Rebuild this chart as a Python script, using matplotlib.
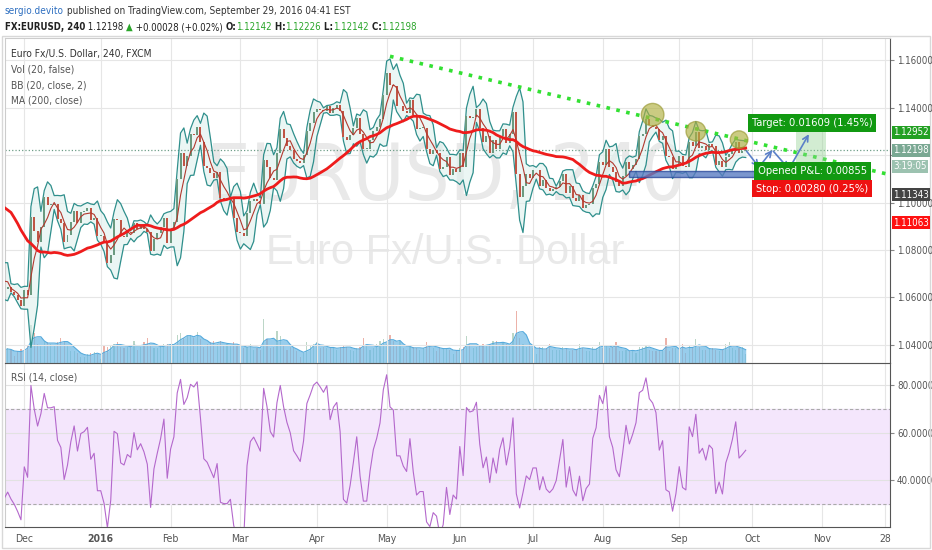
import numpy as np
import pandas as pd
import matplotlib
matplotlib.use('Agg')
import matplotlib.pyplot as plt
import matplotlib.transforms as mtransforms
from matplotlib import font_manager
from matplotlib.patches import Ellipse, Rectangle

# a narrow face if there is one, otherwise Liberation Sans
installed = {(f.name, f.stretch) for f in font_manager.fontManager.ttflist}
if any(n == 'Liberation Sans Narrow' for n, _ in installed):
    plt.rcParams['font.family'] = ['Liberation Sans Narrow', 'DejaVu Sans']
    WM_SIZE = 64
elif ('DejaVu Sans', 'condensed') in installed:
    plt.rcParams['font.family'] = ['DejaVu Sans']
    plt.rcParams['font.stretch'] = 'condensed'
    WM_SIZE = 57
else:
    plt.rcParams['font.family'] = ['Liberation Sans', 'DejaVu Sans']
    WM_SIZE = 53

# daily closes, business days from 2015-10-12 (first 30 only feed the indicators)
START = '2015-10-12'
closes = [
    1.1360, 1.1380, 1.1470, 1.1380, 1.1350,
    1.1325, 1.1345, 1.1345, 1.1110, 1.1015,
    1.1050, 1.1060, 1.0925, 1.0975, 1.1005,
    1.1015, 1.0960, 1.0860, 1.0880, 1.0740,
    1.0755, 1.0725, 1.0730, 1.0815, 1.0770,
    1.0685, 1.0645, 1.0655, 1.0735, 1.0650,
    # Nov 23
    1.0635, 1.0645, 1.0625, 1.0610, 1.0590,
    1.0565, 1.0630, 1.0610, 1.0940, 1.0880,
    1.0835, 1.0895, 1.1025, 1.0990, 1.0990,
    1.0995, 1.0930, 1.0915, 1.0835, 1.0865,
    1.0920, 1.0965, 1.0915, 1.0960, 1.0965,
    1.0975, 1.0925, 1.0935, 1.0860, 1.0860,
    # Jan 4
    1.0830, 1.0745, 1.0780, 1.0930, 1.0925,
    1.0860, 1.0855, 1.0875, 1.0870, 1.0915,
    1.0890, 1.0900, 1.0890, 1.0875, 1.0795,
    1.0845, 1.0870, 1.0895, 1.0935, 1.0830,
    # Feb 1
    1.0890, 1.0920, 1.1100, 1.1210, 1.1155,
    1.1195, 1.1290, 1.1285, 1.1320, 1.1255,
    1.1155, 1.1145, 1.1125, 1.1105, 1.1130,
    1.1020, 1.1015, 1.1015, 1.1020, 1.0935,
    1.0875, 1.0870, 1.0860, 1.0955, 1.1005,
    # Mar 7
    1.1015, 1.1005, 1.0995, 1.1180, 1.1150,
    1.1105, 1.1095, 1.1210, 1.1310, 1.1270,
    1.1240, 1.1220, 1.1185, 1.1175, 1.1165,
    1.1200, 1.1300, 1.1335, 1.1380, 1.1395,
    # Apr 4
    1.1390, 1.1385, 1.1405, 1.1375, 1.1400,
    1.1410, 1.1385, 1.1275, 1.1265, 1.1285,
    1.1315, 1.1355, 1.1290, 1.1225, 1.1225,
    1.1265, 1.1300, 1.1320, 1.1350, 1.1455,
    # May 2
    1.1545, 1.1495, 1.1490, 1.1405, 1.1405,
    1.1385, 1.1375, 1.1430, 1.1370, 1.1310,
    1.1315, 1.1315, 1.1225, 1.1205, 1.1220,
    1.1210, 1.1140, 1.1150, 1.1190, 1.1115,
    1.1140, 1.1130, 1.1210, 1.1150, 1.1365,
    # Jun 6
    1.1355, 1.1360, 1.1395, 1.1315, 1.1255,
    1.1280, 1.1210, 1.1265, 1.1225, 1.1280,
    1.1310, 1.1250, 1.1290, 1.1380, 1.1120,
    1.1025, 1.1070, 1.1120, 1.1105, 1.1135,
    # Jul 4
    1.1135, 1.1070, 1.1095, 1.1060, 1.1050,
    1.1055, 1.1065, 1.1090, 1.1120, 1.1040,
    1.1070, 1.1020, 1.1005, 1.1030, 1.0975,
    1.0990, 1.0995, 1.1060, 1.1080, 1.1170,
    # Aug 1
    1.1160, 1.1225, 1.1150, 1.1130, 1.1085,
    1.1070, 1.1110, 1.1170, 1.1140, 1.1160,
    1.1185, 1.1280, 1.1290, 1.1350, 1.1325,
    1.1320, 1.1310, 1.1265, 1.1280, 1.1195,
    1.1190, 1.1140, 1.1160, 1.1195, 1.1155,
    # Sep 5
    1.1150, 1.1255, 1.1240, 1.1295, 1.1230,
    1.1240, 1.1220, 1.1245, 1.1240, 1.1160,
    1.1175, 1.1150, 1.1190, 1.1205, 1.1225,
    1.1255, 1.1210, 1.1215, 1.1220,
]

# daily volume from 2015-11-23 (arbitrary tick units)
VOL_START = '2015-11-23'
volumes = [
    90, 100, 85, 50, 80,
    95, 110, 120, 260, 200,
    130, 120, 150, 140, 130,
    120, 140, 170, 150, 120,
    80, 80, 70, 40, 40,
    60, 70, 75, 60, 30,
    120, 110, 120, 130, 140,
    110, 100, 110, 120, 150,
    90, 110, 140, 170, 120,
    100, 100, 120, 130, 130,
    120, 120, 190, 200, 170,
    180, 190, 170, 210, 160,
    110, 130, 140, 150, 130,
    150, 120, 130, 120, 140,
    120, 100, 100, 110, 130,
    90, 100, 90, 300, 160,
    100, 110, 220, 180, 120,
    90, 110, 100, 80, 40,
    70, 140, 120, 130, 140,
    100, 110, 100, 110, 100,
    90, 110, 120, 110, 90,
    80, 100, 110, 170, 120,
    90, 100, 130, 150, 160,
    130, 190, 150, 120, 150,
    100, 90, 110, 110, 100,
    90, 100, 140, 120, 100,
    80, 110, 100, 100, 90,
    60, 90, 100, 110, 180,
    130, 100, 110, 120, 130,
    120, 130, 150, 150, 120,
    140, 130, 120, 200, 350,
    170, 130, 110, 130, 100,
    60, 110, 110, 100, 130,
    90, 90, 90, 110, 100,
    80, 90, 90, 130, 100,
    80, 80, 110, 100, 140,
    100, 120, 100, 110, 140,
    80, 80, 90, 80, 90,
    70, 110, 110, 120, 90,
    80, 80, 90, 90, 170,
    80, 100, 100, 100, 130,
    70, 120, 100, 160, 110,
    90, 90, 100, 100, 90,
    80, 90, 130, 140, 100,
    90, 100, 110, 60,
]

price_ticks = [1.04, 1.06, 1.08, 1.10, 1.12, 1.14, 1.16]
rsi_ticks = [40, 60, 80]
month_dates = ['2015-12-01', '2016-01-01', '2016-02-01', '2016-03-01', '2016-04-01',
               '2016-05-01', '2016-06-01', '2016-07-01', '2016-08-01', '2016-09-01',
               '2016-10-01', '2016-11-01', '2016-11-28']
month_labels = ['Dec', '2016', 'Feb', 'Mar', 'Apr', 'May', 'Jun', 'Jul', 'Aug', 'Sep',
                'Oct', 'Nov', '28']

# drawing tools on the chart
trend_pts = [('2016-05-03', 1.1616), ('2016-09-26', 1.1271)]
circles = [('2016-08-22', 1.1370, 6.8, 0.0095), ('2016-09-08', 1.1300, 5.9, 0.0082),
           ('2016-09-27', 1.1265, 5.3, 0.0074)]
entry, stop, target = 1.11343, 1.11063, 1.12952
last_price = 1.12198
zone_dates = ('2016-08-11', '2016-10-20')
target_dates = ('2016-10-20', '2016-11-02')
path_pts = [('2016-09-29', 1.1221), ('2016-10-05', 1.1149), ('2016-10-11', 1.1221),
            ('2016-10-18', 1.1141), ('2016-10-26', 1.1288)]

full_dates = pd.bdate_range(START, '2016-12-30')


def di(d):
    return int(full_dates.searchsorted(pd.Timestamp(d)))


c = pd.Series(closes)
o = c.shift(1).fillna(c.iloc[0])
x = np.arange(len(closes))
ma = c.rolling(33, min_periods=20).mean()
basis = c.rolling(4, min_periods=2).mean()
sd = c.rolling(4, min_periods=2).std(ddof=0)
upper = basis + 2 * sd
lower = basis - 2 * sd
d = c.diff()
up = d.clip(lower=0).ewm(alpha=1 / 6, adjust=False).mean()
dn = (-d.clip(upper=0)).ewm(alpha=1 / 6, adjust=False).mean()
rsi = 100 - 100 / (1 + up / dn)

view = x >= di(VOL_START) - 6
xv = np.arange(di(VOL_START), di(VOL_START) + len(volumes))
vol = pd.Series(volumes)
vol_ma = vol.rolling(4, min_periods=1).mean()

W, H = 932, 550
fig = plt.figure(figsize=(W / 100, H / 100), dpi=100)
fig.patch.set_facecolor('white')


def fx(px):
    return px / W


def fy(py):
    return 1 - py / H


ax = fig.add_axes([fx(5), fy(363), 885 / W, 325 / H])
vax = ax.twinx()
rax = fig.add_axes([fx(5), fy(527), 885 / W, 164 / H], sharex=ax)
ax.set_zorder(vax.get_zorder() + 1)
ax.patch.set_visible(False)
vax.set_facecolor('white')

xl = (di('2015-11-23') + 0.2, di('2016-11-28') + 1.4)
ax.set_xlim(*xl)
ax.set_ylim(1.0324, 1.1693)
vax.set_ylim(0, 2200)
vax.set_yticks([])

# watermark
vax.text(0.498, 0.57, 'EURUSD, 240', transform=vax.transAxes, ha='center', va='center',
         fontsize=WM_SIZE, color='#e9e9e9', zorder=0)
vax.text(0.498, 0.338, 'Euro Fx/U.S. Dollar', transform=vax.transAxes, ha='center',
         va='center', fontsize=30, color='#e9e9e9', family=['Liberation Sans', 'DejaVu Sans'],
         fontstretch='normal', zorder=0)

# volume
vcol = np.where(c.values[xv] >= o.values[xv], '#6ba583', '#d75442')
vax.bar(xv, volumes, width=0.35, color=vcol, alpha=0.45, zorder=1)
vax.fill_between(xv, 0, vol_ma, color='#6cb8e4', alpha=0.7, lw=0, zorder=2)
vax.plot(xv, vol_ma, color='#55aadc', lw=0.8, zorder=2)

# grid
for t in price_ticks:
    ax.axhline(t, color='#e6e6e6', lw=0.8, zorder=0)
mt = [di(m) for m in month_dates]
for m in mt:
    ax.axvline(m, color='#e6e6e6', lw=0.8, zorder=0)
    rax.axvline(m, color='#e6e6e6', lw=0.8, zorder=0)

# bollinger bands
xs = x[view]
ax.fill_between(xs, lower[view], upper[view], color='#dff1ee', alpha=0.6, lw=0, zorder=1)
ax.plot(xs, upper[view], color='#2f8f8c', lw=0.9, zorder=3)
ax.plot(xs, lower[view], color='#2f8f8c', lw=0.9, zorder=3)

# candles
cv, ov = c.values[view], o.values[view]
body = np.where(np.abs(cv - ov) < 0.0003, 0.0003 * np.sign(cv - ov + 1e-9), cv - ov)
ccol = np.where(cv >= ov, '#6b9a80', '#c05545')
ax.bar(xs, body, bottom=ov, width=0.6, color=ccol, zorder=4)
ax.plot(xs, basis[view], color='#b2392f', lw=0.8, zorder=5)
ax.plot(xs, ma[view], color='#ee1c1c', lw=2.0, zorder=6)

# current price line
ax.axhline(last_price, color='#6e9e88', lw=0.9, ls=':', zorder=2)

# trendline
(d0, p0), (d1, p1) = trend_pts
slope = (p1 - p0) / (di(d1) - di(d0))
ax.plot([di(d0), xl[1]], [p0, p0 + slope * (xl[1] - di(d0))], color='#33e033', lw=2.6,
        ls=(0, (1, 1.8)), zorder=7, solid_capstyle='butt')

for dd, pp, w, h in circles:
    ax.add_patch(Ellipse((di(dd), pp), w, h, fc='#b0b040', ec='#999933', alpha=0.65, lw=1,
                         zorder=8))

# support zone and long position
ax.add_patch(Rectangle((di(zone_dates[0]), stop), di(zone_dates[1]) - di(zone_dates[0]),
                       entry - stop, fc='#5a7cc2', ec='#2b4a9c', alpha=0.8, lw=1, zorder=8))
ax.add_patch(Rectangle((di(target_dates[0]), entry), di(target_dates[1]) - di(target_dates[0]),
                       target - entry, fc='#8fd18f', alpha=0.4, lw=0, zorder=7))

for (da, pa), (db, pb) in zip(path_pts[:-1], path_pts[1:]):
    ax.annotate('', xy=(di(db), pb), xytext=(di(da), pa),
                arrowprops=dict(arrowstyle='->', color='#5b80c8', lw=1.2, shrinkA=1, shrinkB=0),
                zorder=9)

lbl = dict(ha='center', va='center', color='white', fontsize=8, zorder=10)
ax.text(di('2016-10-27'), 1.1335, 'Target: 0.01609 (1.45%)',
        bbox=dict(boxstyle='square,pad=0.35', fc='#119911', ec='none'), **lbl)
ax.text(di('2016-10-27'), 1.1133, 'Opened P&L: 0.00855',
        bbox=dict(boxstyle='square,pad=0.35', fc='#119911', ec='none'), **lbl)
ax.text(di('2016-10-27'), 1.1059, 'Stop: 0.00280 (0.25%)',
        bbox=dict(boxstyle='square,pad=0.35', fc='#ee1111', ec='none'), **lbl)

# axes styling
for a in (ax, rax):
    a.yaxis.tick_right()
    a.tick_params(axis='y', colors='#888888', labelcolor='#555555', labelsize=7, length=3, pad=2)
    a.tick_params(axis='x', length=0)
    for s in ('left', 'top'):
        a.spines[s].set_color('#cccccc')
    for s in ('right', 'bottom'):
        a.spines[s].set_color('#555555')
for s in vax.spines.values():
    s.set_visible(False)
ax.set_yticks(price_ticks)
# 1.12000 sits under the last-price label, as on the reference
ax.set_yticklabels(['' if abs(t - 1.12) < 1e-9 else '%.5f' % t for t in price_ticks])
plt.setp(ax.get_xticklabels(), visible=False)

blend = mtransforms.blended_transform_factory(ax.transAxes, ax.transData)
axis_lbls = [(target, '1.12952', '#22a022'), (last_price, '1.12198', '#7aa893'),
             (1.1153, '3:19:05', '#9cc2b0'), (1.1032, '1.11343', '#444444'),
             (1.0914, '1.11063', '#ff1111')]
for pp, s, fc in axis_lbls:
    ax.text(1.0035, pp, s, transform=blend, ha='left', va='center', fontsize=7,
            color='white', clip_on=False, zorder=12,
            bbox=dict(boxstyle='square,pad=0.15', fc=fc, ec='none'))

# RSI panel
rax.set_ylim(20.2, 89.3)
rax.axhspan(30, 70, color='#f4e6fc', zorder=0)
for t in rsi_ticks:
    rax.axhline(t, color='#e2e2e2', lw=0.8, zorder=0)
rax.axhline(70, color='#aaaaaa', lw=0.8, ls=(0, (3, 2)), zorder=1)
rax.axhline(30, color='#aaaaaa', lw=0.8, ls=(0, (3, 2)), zorder=1)
rax.plot(xs, rsi[view], color='#b468cc', lw=0.8, zorder=3)
rax.set_yticks(rsi_ticks)
rax.set_yticklabels(['%.4f' % t for t in rsi_ticks])
rax.set_xticks(mt)
rax.set_xticklabels(month_labels)
rax.tick_params(axis='x', labelsize=7.5, labelcolor='#555555', pad=5)
rax.get_xticklabels()[1].set_fontweight('bold')

# legends
leg = dict(fontsize=7.4, va='center', ha='left')
fig.text(fx(11), fy(54), 'Euro Fx/U.S. Dollar, 240, FXCM', color='#333333', **leg)
fig.text(fx(11), fy(70), 'Vol (20, false)', color='#555555', **leg)
fig.text(fx(11), fy(85), 'BB (20, close, 2)', color='#555555', **leg)
fig.text(fx(11), fy(100), 'MA (200, close)', color='#555555', **leg)
fig.text(fx(11), fy(378), 'RSI (14, close)', color='#555555', **leg)


def chain(parts, px, py, size):
    t = None
    for s, col, wt in parts:
        if t is None:
            t = fig.text(fx(px), fy(py), s, color=col, fontweight=wt, fontsize=size,
                         va='bottom', ha='left')
        else:
            t = ax.annotate(s, xy=(1, 0), xycoords=t, va='bottom', ha='left', color=col,
                            fontweight=wt, fontsize=size, annotation_clip=False)


chain([('sergio.devito', '#2e6fc0', 'normal'),
       (' published on TradingView.com, September 29, 2016 04:41 EST', '#333333', 'normal')],
      5, 16, 7.2)
g = '#2aa52a'
chain([('FX:EURUSD, 240', '#222222', 'bold'), (' 1.12198 ', '#222222', 'normal'),
       ('\u25b2', g, 'normal'), (' +0.00028 (+0.02%) ', '#222222', 'normal'),
       ('O:', '#222222', 'bold'), ('1.12142', g, 'normal'), (' H:', '#222222', 'bold'),
       ('1.12226', g, 'normal'), (' L:', '#222222', 'bold'), ('1.12142', g, 'normal'),
       (' C:', '#222222', 'bold'), ('1.12198', g, 'normal')], 5, 32, 6.9)

fig.add_artist(Rectangle((fx(2), fy(548)), fx(928), fy(36) - fy(548),
                         transform=fig.transFigure, fill=False, ec='#d8d8d8', lw=1))

fig.savefig('out.png', dpi=100)
